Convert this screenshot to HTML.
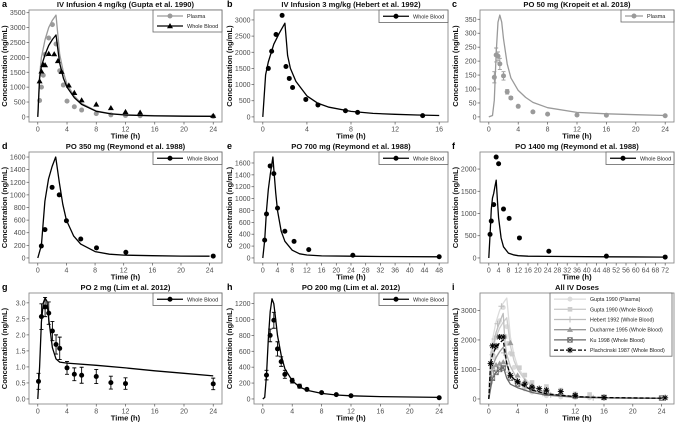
<!DOCTYPE html>
<html><head><meta charset="utf-8"><style>
html,body{margin:0;padding:0;background:#fff}
svg{display:block;font-family:"Liberation Sans",sans-serif}
</style></head><body>
<svg id="fig" width="676" height="422" viewBox="0 0 676 422" xmlns="http://www.w3.org/2000/svg"></svg>
<script>
// ---- Panel a data ----
const aPlasmaT=[0.25,0.5,0.75,1,1.5,2,2.5,3,3.5,4,5,6,8,10,12,14,24];
const aPlasmaC=[550,1000,1400,2100,2650,3100,2450,1550,1070,530,340,230,110,70,50,40,20];
const aBloodT=[0.25,0.5,0.75,1,1.5,2.25,2.75,3.25,4.25,5,6,8,10,12,14,24];
const aBloodC=[1200,1530,1750,1740,2120,2110,1880,1520,1060,810,560,420,300,170,150,40];
const aModelT=[0,0.25,0.5,1,1.5,2,2.5,3,3.5,4,5,6,8,10,12,16,20,24];
const aModelPlasma=[0,1400,2000,2600,3000,3250,3420,2100,1500,1100,700,450,200,110,70,40,30,20];
const aModelBlood=[0,1300,1700,2100,2400,2600,2750,1800,1300,1000,650,420,190,100,65,35,25,20];
// ---- Panel b ----
const bT=[0.5,0.8,1.2,1.75,2.1,2.4,2.7,3.9,5,7.5,8.6,14.5];
const bC=[1500,2030,2550,3140,1560,1190,910,540,370,190,140,40];
const bModelT=[0,0.25,0.5,1,1.5,2,2.25,2.5,3,4,5,6,8,10,12,14,16];
const bModelC=[0,1300,1700,2250,2600,2900,1900,1500,1100,650,420,300,170,110,80,60,45];
// ---- Panel c ----
const cT=[0.75,1,1.25,1.5,2,2.5,3,4,6,8,12,16,24];
const cC=[142,222,218,190,147,90,68,38,18,10,7,6,4];
const cErr=[20,25,15,20,15,8,5,0,0,0,0,0,0];
const cModelT=[0,0.5,0.75,1,1.25,1.5,1.75,2,2.5,3,4,5,6,8,12,16,20,24];
const cModelC=[0,5,60,230,340,365,340,280,190,140,95,70,52,33,16,11,8,5];
// ---- Panel d ----
const dT=[0.5,1,2,3,4,6,8.2,12.3,24.5];
const dC=[190,450,1120,1000,590,300,160,90,30];
const dModelT=[0,0.5,1,1.5,2,2.5,3,3.5,4,5,6,8,10,12,16,20,24];
const dModelC=[0,200,900,1250,1450,1600,1200,850,600,350,220,100,60,45,35,30,28];
// ---- Panel e ----
const eT=[0.5,1,2,3,4,6,8.5,12.5,24.5,48];
const eC=[300,740,1550,1420,840,450,280,140,45,20];
const eModelT=[0,0.5,1,1.5,2,2.5,2.75,3,3.5,4,5,6,8,10,12,16,24,32,48];
const eModelC=[0,300,800,1150,1400,1600,1700,1500,1100,800,450,280,130,70,50,35,30,25,20];
// ---- Panel f ----
const fT=[0.5,1,2,3,4,6,8.3,12.5,24.5,48,72];
const fC=[530,830,1200,2270,2120,1100,890,450,150,40,20];
const fModelT=[0,0.5,1,1.5,2,2.5,3,3.5,4,5,6,8,10,12,16,24,48,72];
const fModelC=[0,500,1100,1350,1450,1600,1750,1300,900,450,250,110,70,50,40,35,25,20];
// ---- Panel g ----
const gT=[0.1,0.5,1,1.5,2,2.5,3,4,5,6,8,10,12,24];
const gC=[0.55,2.57,2.87,2.68,2.12,1.70,1.58,0.97,0.77,0.74,0.70,0.51,0.48,0.47];
const gErr=[0.25,0.4,0.3,0.35,0.3,0.3,0.35,0.2,0.2,0.25,0.22,0.2,0.18,0.18];
const gModelT=[0,0.25,0.5,0.75,1,1.25,1.5,2,2.5,3,4,8,12,16,20,24];
const gModelC=[0,1.0,2.4,3.0,3.15,3.05,2.5,1.6,1.25,1.15,1.12,1.05,0.97,0.88,0.8,0.72];
// ---- Panel h ----
const hT=[0.5,1,1.5,2,2.5,3,4,5,6,8,10,12,24];
const hC=[300,800,990,630,470,310,230,160,120,80,55,40,15];
const hErr=[60,80,100,90,60,50,30,25,15,10,8,6,3];
const hModelT=[0,0.25,0.5,0.75,1,1.25,1.5,1.75,2,2.5,3,4,5,6,8,10,12,16,24];
const hModelC=[0,20,300,750,1100,1260,1200,1000,800,550,380,230,150,110,70,50,40,30,20];
// ---- Panel i ----
const iDuchT=[0.5,1,1.5,2,3,4,5,6,8,10,12];
const iDuchC=[1100,1150,1200,1250,1900,800,600,450,300,220,150];
const iDuchModelT=[0,0.5,1,1.5,2,2.5,3,4,6,8,12,16,24];
const iDuchModelC=[0,1100,1400,1600,1750,1200,800,550,300,170,80,45,25];
const iKuT=[0.5,1,1.5,2,3,4,6,8,12,16,24];
const iKuC=[700,900,1000,1050,700,500,350,200,100,50,30];
const iKuModelT=[0,0.5,1,1.5,2,2.5,3,4,6,8,12,16,24];
const iKuModelC=[0,700,900,1000,1100,700,500,380,220,130,60,35,20];
const iPlaT=[0.25,0.5,1,1.5,2,3,4,5,6,7,8,10,12,16,24.5];
const iPlaC=[1200,1800,1800,2100,2100,800,600,500,400,350,300,250,120,50,40];
const iPlaModelT=[0,0.25,0.5,1,1.5,2,2.5,3,4,6,8,12,16,24];
const iPlaModelC=[0,1200,1500,1750,1900,2000,1200,800,550,300,170,80,45,25];

const svg=document.getElementById('fig');
const NS='http://www.w3.org/2000/svg';
function mk(tag,attrs,parent){const e=document.createElementNS(NS,tag);for(const k in attrs)e.setAttribute(k,attrs[k]);(parent||svg).appendChild(e);return e;}

function panel(p){
  const g=mk('g',{});
  
  
  const [x0,y0,x1,y1]=p.rect;
  const xr=p.xmax-p.xmin, yr=p.ymax;
  const xs=v=>x0+(x1-x0)*((v-p.xmin+0.05*xr)/(1.1*xr));
  const ys=v=>y1-(y1-y0)*((v+0.05*yr)/(1.1*yr));
  // box
  const box=mk('rect',{x:x0,y:y0,width:x1-x0,height:y1-y0,fill:'#fff',stroke:'#8c8c8c','stroke-width':0.9},g);
  
  
  // letter, title
  const lt=mk('text',{x:2,y:y0-3,'font-size':9,'font-weight':'bold',fill:'#000'},g);
  lt.textContent=p.id;lt.setAttribute('x',p.lx);
  
  
  const tt=mk('text',{x:(x0+x1)/2,y:y0-3,'font-size':7.6,'font-weight':'bold','text-anchor':'middle',fill:'#111'},g);
  tt.textContent=p.title;
  
  
  // x ticks
  for(const t of p.xticks){
    const X=xs(t);
    mk('line',{x1:X,x2:X,y1:y1,y2:y1+2.5,stroke:'#555','stroke-width':0.7},g);
    const tx=mk('text',{x:X,y:y1+9.5,'font-size':7,'text-anchor':'middle',fill:'#4d4d4d'},g);
    tx.textContent=t;
    
    
  }
  for(const t of p.yticks){
    const Y=ys(t);
    mk('line',{x1:x0-2.5,x2:x0,y1:Y,y2:Y,stroke:'#555','stroke-width':0.7},g);
    const ty=mk('text',{x:x0-3.5,y:Y+2.5,'font-size':7,'text-anchor':'end',fill:'#4d4d4d'},g);
    ty.textContent=p.yfmt?p.yfmt(t):t;
    
    
  }
  const xt=mk('text',{x:(x0+x1)/2,y:y1+16.5,'font-size':7.6,'font-weight':'bold','text-anchor':'middle',fill:'#111'},g);
  xt.textContent='Time (h)';
  
  
  const yx=p.rect[0]-22, yc=(y0+y1)/2;
  const yt=mk('text',{x:yx,y:yc,'font-size':7.6,'font-weight':'bold','text-anchor':'middle',fill:'#111',transform:`rotate(-90 ${yx} ${yc})`},g);
  yt.textContent='Concentration (ng/mL)';
  
  
  // series
  for(const s of p.series){
    if(s.mt){
      const d=s.mt.map((t,i)=>(i?'L':'M')+xs(t).toFixed(1)+','+ys(s.mc[i]).toFixed(1)).join('');
      const pl=mk('path',{d:d,fill:'none',stroke:s.color,'stroke-width':s.lw||1.3,'stroke-dasharray':s.dash||'none','stroke-linejoin':'round'},g);
      
      
    }
    if(s.t){
      s.t.forEach((t,i)=>{
        const X=xs(t),Y=ys(s.c[i]);
        if(s.err&&s.err[i]){
          const e=s.err[i],ya=ys(s.c[i]+e),yb=ys(s.c[i]-e);
          const eb=mk('path',{d:`M${X},${ya}L${X},${yb}M${X-2},${ya}L${X+2},${ya}M${X-2},${yb}L${X+2},${yb}`,stroke:s.color,'stroke-width':0.9,fill:'none'},g);
          
          
        }
        const m=marker(g,s.shape,X,Y,s.color);
        
        
      });
    }
  }
  // legend
  const L=p.legend;
  const lg=mk('g',{},g);
  
  
  const lh=L.rowh*p.series.length+2;
  mk('rect',{x:L.x,y:y0,width:L.w,height:lh,fill:'#fff',stroke:'#666','stroke-width':0.8},lg);
  p.series.forEach((s,i)=>{
    const yy=y0+1+L.rowh*(i+0.5);
    mk('line',{x1:L.x+4,x2:L.x+L.sw,y1:yy,y2:yy,stroke:s.color,'stroke-width':s.lw||1.3,'stroke-dasharray':s.dash||'none'},lg);
    marker(lg,s.shape,L.x+4+(L.sw-4)/2,yy,s.color);
    const te=mk('text',{x:L.x+L.sw+4,y:yy+2,'font-size':L.fs||5.5,fill:'#222'},lg);
    te.textContent=s.label;
    
    
  });
}
function marker(g,shape,X,Y,c){
  if(shape==='tri') return mk('path',{d:`M${X},${Y-3}L${X+3},${Y+2.2}L${X-3},${Y+2.2}Z`,fill:c},g);
  if(shape==='sq') return mk('rect',{x:X-2.3,y:Y-2.3,width:4.6,height:4.6,fill:c},g);
  if(shape==='plus') return mk('path',{d:`M${X-3},${Y}L${X+3},${Y}M${X},${Y-3}L${X},${Y+3}`,stroke:c,'stroke-width':1},g);
  if(shape==='sqx') return mk('path',{d:`M${X-2.3},${Y-2.3}h4.6v4.6h-4.6ZM${X-2.3},${Y-2.3}L${X+2.3},${Y+2.3}M${X+2.3},${Y-2.3}L${X-2.3},${Y+2.3}`,stroke:c,fill:'none','stroke-width':0.8},g);
  if(shape==='star') return mk('path',{d:`M${X-3},${Y}L${X+3},${Y}M${X},${Y-3}L${X},${Y+3}M${X-2.2},${Y-2.2}L${X+2.2},${Y+2.2}M${X+2.2},${Y-2.2}L${X-2.2},${Y+2.2}`,stroke:c,'stroke-width':0.9},g);
  return mk('circle',{cx:X,cy:Y,r:2.5,fill:c},g);
}
const R1=[10,122],R2=[152,263],R3=[293,404];
const C1=[29,222],C2=[254,448],C3=[480,674];
const ti=n=>{const a=[];for(let v=0;v<=n[0];v+=n[1])a.push(v);return a;};
const WB={name:'whole-blood',label:'Whole Blood',color:'#000',shape:'circle'};
const leg1={x:153,w:69,rowh:10.5,sw:30};
const leg2={x:379,w:69,rowh:10.5,sw:30};
const leg3={x:606,w:68,rowh:10.5,sw:30};
panel({id:'a',lx:2,title:'IV Infusion 4 mg/kg (Gupta et al. 1990)',rect:[C1[0],R1[0],C1[1],R1[1]],xmin:0,xmax:24,ymax:3420,xticks:ti([24,4]),yticks:ti([3500,500]),
 legend:{x:153,w:69,rowh:10,sw:30},
 series:[{name:'plasma',label:'Plasma',color:'#9a9a9a',shape:'circle',t:aPlasmaT,c:aPlasmaC,mt:aModelT,mc:aModelPlasma},
         {name:'whole-blood',label:'Whole Blood',color:'#000',shape:'tri',t:aBloodT,c:aBloodC,mt:aModelT,mc:aModelBlood}]});
panel({id:'b',lx:227,title:'IV Infusion 3 mg/kg (Hebert et al. 1992)',rect:[C2[0],R1[0],C2[1],R1[1]],xmin:0,xmax:16,ymax:3150,xticks:ti([16,4]),yticks:ti([3000,500]),legend:leg2,
 series:[Object.assign({},WB,{t:bT,c:bC,mt:bModelT,mc:bModelC})]});
panel({id:'c',lx:452,title:'PO 50 mg (Kropeit et al. 2018)',rect:[C3[0],R1[0],C3[1],R1[1]],xmin:0,xmax:24,ymax:365,xticks:ti([24,4]),yticks:ti([350,50]),legend:{x:621,w:53,rowh:10,sw:22},
 series:[{name:'plasma',label:'Plasma',color:'#9a9a9a',shape:'circle',t:cT,c:cC,err:cErr,mt:cModelT,mc:cModelC}]});
panel({id:'d',lx:2,title:'PO 350 mg (Reymond et al. 1988)',rect:[C1[0],R2[0],C1[1],R2[1]],xmin:0,xmax:24.5,ymax:1600,xticks:ti([24,4]),yticks:ti([1600,200]),legend:leg1,
 series:[Object.assign({},WB,{t:dT,c:dC,mt:dModelT,mc:dModelC})]});
panel({id:'e',lx:227,title:'PO 700 mg (Reymond et al. 1988)',rect:[C2[0],R2[0],C2[1],R2[1]],xmin:0,xmax:48,ymax:1700,xticks:ti([48,4]),yticks:ti([1600,200]),legend:leg2,
 series:[Object.assign({},WB,{t:eT,c:eC,mt:eModelT,mc:eModelC})]});
panel({id:'f',lx:452,title:'PO 1400 mg (Reymond et al. 1988)',rect:[C3[0],R2[0],C3[1],R2[1]],xmin:0,xmax:72,ymax:2270,xticks:ti([72,4]),yticks:ti([2000,500]),legend:leg3,
 series:[Object.assign({},WB,{t:fT,c:fC,mt:fModelT,mc:fModelC})]});
panel({id:'g',lx:2,title:'PO 2 mg (Lim et al. 2012)',rect:[C1[0],R3[0],C1[1],R3[1]],xmin:0,xmax:24,ymax:3.15,xticks:ti([24,4]),yticks:[0,0.5,1,1.5,2,2.5,3],yfmt:v=>v.toFixed(1),legend:leg1,
 series:[Object.assign({},WB,{t:gT,c:gC,err:gErr,mt:gModelT,mc:gModelC})]});
panel({id:'h',lx:227,title:'PO 200 mg (Lim et al. 2012)',rect:[C2[0],R3[0],C2[1],R3[1]],xmin:0,xmax:24,ymax:1270,xticks:ti([24,4]),yticks:ti([1200,200]),legend:leg2,
 series:[Object.assign({},WB,{t:hT,c:hC,err:hErr,mt:hModelT,mc:hModelC})]});
panel({id:'i',lx:452,title:'All IV Doses',rect:[C3[0],R3[0],C3[1],R3[1]],xmin:0,xmax:24.5,ymax:3420,xticks:ti([24,4]),yticks:ti([3000,1000]),
 legend:{x:550,w:122,rowh:10.2,sw:36,fs:5.3},
 series:[{name:'gupta-plasma',label:'Gupta 1990 (Plasma)',color:'#dcdcdc',shape:'circle',t:aPlasmaT,c:aPlasmaC,mt:aModelT,mc:aModelPlasma},
         {name:'gupta-blood',label:'Gupta 1990 (Whole Blood)',color:'#cdcdcd',shape:'sq',t:aBloodT,c:aBloodC,mt:aModelT,mc:aModelBlood},
         {name:'hebert-blood',label:'Hebert 1992 (Whole Blood)',color:'#bdbdbd',shape:'plus',t:bT,c:bC,mt:bModelT,mc:bModelC},
         {name:'ducharme-blood',label:'Ducharme 1995 (Whole Blood)',color:'#9a9a9a',shape:'tri',t:iDuchT,c:iDuchC,mt:iDuchModelT,mc:iDuchModelC},
         {name:'ku-blood',label:'Ku 1998 (Whole Blood)',color:'#6a6a6a',shape:'sqx',t:iKuT,c:iKuC,mt:iKuModelT,mc:iKuModelC},
         {name:'plachcinski-blood',label:'Plachcinski 1987 (Whole Blood)',color:'#000',shape:'star',dash:'4,2',t:iPlaT,c:iPlaC,mt:iPlaModelT,mc:iPlaModelC}]});
</script>
</body></html>
